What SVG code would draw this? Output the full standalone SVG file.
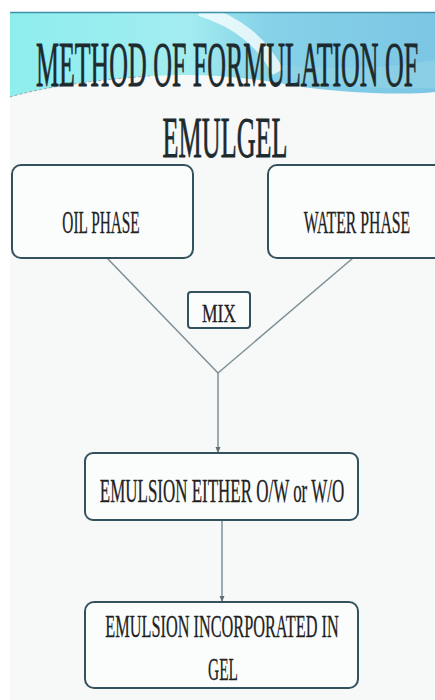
<svg xmlns="http://www.w3.org/2000/svg" width="435" height="700" viewBox="0 0 435 700">
<defs>
<linearGradient id="band" x1="0" y1="0" x2="1" y2="0">
<stop offset="0" stop-color="#8eeeee"/>
<stop offset="0.42" stop-color="#a3ecf0"/>
<stop offset="0.6" stop-color="#86d2e8"/>
<stop offset="1" stop-color="#7cc6e4"/>
</linearGradient>
<marker id="arr" viewBox="0 0 6 6" refX="5" refY="3" markerWidth="6" markerHeight="6" orient="auto" markerUnits="userSpaceOnUse">
<path d="M0,0.5 L6,3 L0,5.5 Z" fill="#5d7078"/>
</marker>
<style>
.box{fill:#fbfdfd;stroke:#34525e;stroke-width:2}
.t{font-family:"Liberation Serif","Times New Roman",serif;fill:#222;stroke:#222;stroke-width:0.3;text-anchor:middle}
.title{font-family:"Liberation Serif","Times New Roman",serif;fill:#1c2a2e;stroke:#1c2a2e;stroke-width:0.8;text-anchor:middle}
.con{stroke:#7f8f96;stroke-width:1.5;fill:none}
</style>
</defs>
<rect width="435" height="700" fill="#ffffff"/>
<rect x="10" y="12" width="425" height="688" fill="#f7f9f9"/>
<path d="M10,12 H435 V92 C400,96 330,92 290,85 C240,76 200,73 150,76 C90,80 40,88 10,97 Z" fill="url(#band)"/>
<path d="M250,70 C300,82 360,90 435,88 V60 C380,70 320,70 260,62 Z" fill="#92d4e2" opacity="0.6"/>
<path d="M200,10 C238,22 262,42 278,72" stroke="#ffffff" stroke-width="12" fill="none" opacity="0.75"/>
<path d="M10,97 C40,88 90,80 150,76" stroke="#9aa8ac" stroke-width="1" fill="none" stroke-dasharray="3 2"/>
<line x1="10" y1="12.5" x2="435" y2="12.5" stroke="#3f8fa6" stroke-width="1.5"/>
<g id="title">
<text class="title" transform="translate(227,86) scale(0.405,1)" font-size="64">METHOD OF FORMULATION OF</text>
<text class="title" transform="translate(225,157) scale(0.451,1)" font-size="58">EMULGEL</text>
</g>
<g id="connectors">
<line class="con" x1="107" y1="258" x2="218" y2="373"/>
<line class="con" x1="353" y1="258" x2="218" y2="373"/>
<line class="con" x1="218" y1="373" x2="218" y2="452" marker-end="url(#arr)"/>
<line class="con" x1="222" y1="520" x2="222" y2="601" marker-end="url(#arr)"/>
</g>
<g id="oil">
<rect class="box" x="12" y="165" width="181" height="93" rx="9"/>
<text class="t" transform="translate(101,233) scale(0.479,1)" font-size="32">OIL PHASE</text>
</g>
<g id="water">
<rect class="box" x="268" y="165" width="180" height="93" rx="9"/>
<text class="t" transform="translate(357,233) scale(0.493,1)" font-size="32">WATER PHASE</text>
</g>
<g id="mix">
<rect class="box" x="188" y="292" width="62" height="36" rx="3"/>
<text class="t" transform="translate(219,322) scale(0.673,1)" font-size="26">MIX</text>
</g>
<g id="emulsion">
<rect class="box" x="85" y="453" width="273" height="67" rx="8"/>
<text class="t" transform="translate(222,502) scale(0.499,1)" font-size="34">EMULSION EITHER O/W or W/O</text>
</g>
<g id="gel">
<rect class="box" x="85" y="602" width="273" height="86" rx="9"/>
<text class="t" transform="translate(222,637) scale(0.509,1)" font-size="32">EMULSION INCORPORATED IN</text>
<text class="t" transform="translate(223,680) scale(0.48,1)" font-size="32">GEL</text>
</g>
</svg>
